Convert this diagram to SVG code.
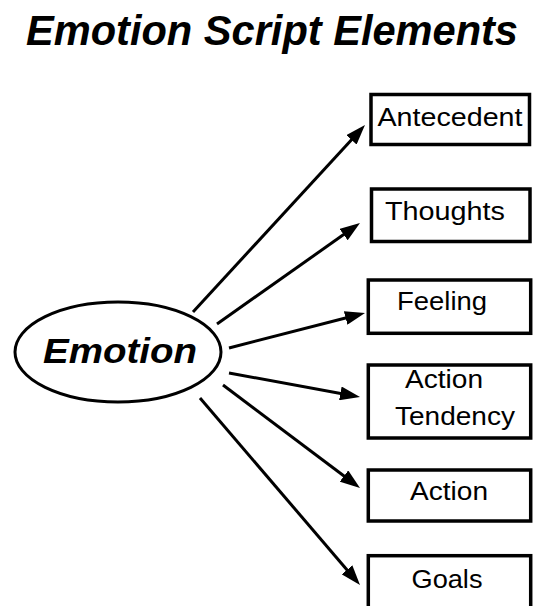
<svg xmlns="http://www.w3.org/2000/svg" width="542" height="606" viewBox="0 0 542 606">
<style>
.box{fill:#fff;stroke:#000;stroke-width:3.5}
.lbl{font-family:"Liberation Sans",Arial,sans-serif;font-size:25px;fill:#000}
.title{font-family:"Liberation Sans",Arial,sans-serif;font-size:43px;font-weight:bold;font-style:italic;fill:#000}
.conn line{stroke:#000;stroke-width:3;marker-end:url(#ah)}
</style>
<defs>
<marker id="ah" markerUnits="userSpaceOnUse" markerWidth="20" markerHeight="14" refX="10" refY="7" orient="auto" viewBox="0 0 20 14">
<path d="M0,0 L20,7 L0,14 z" fill="#000"/>
</marker>
</defs>
<rect width="542" height="606" fill="#fff"/>
<text class="title" x="272" y="45" text-anchor="middle" textLength="492" lengthAdjust="spacingAndGlyphs">Emotion Script Elements</text>
<g id="emotion">
<ellipse cx="118" cy="352" rx="103" ry="50" fill="#fff" stroke="#000" stroke-width="3"/>
<text x="120" y="363" text-anchor="middle" font-family="'Liberation Sans',Arial,sans-serif" font-size="35" font-weight="bold" font-style="italic" textLength="154" lengthAdjust="spacingAndGlyphs">Emotion</text>
</g>
<g id="antecedent">
<rect class="box" x="371" y="94.5" width="158.5" height="50"/>
<text class="lbl" x="450" y="126" text-anchor="middle" font-size="26" textLength="145" lengthAdjust="spacingAndGlyphs" style="font-size:26px">Antecedent</text>
</g>
<g id="thoughts">
<rect class="box" x="371.5" y="189" width="158.5" height="52.5"/>
<text class="lbl" x="445" y="220" text-anchor="middle" textLength="120" lengthAdjust="spacingAndGlyphs">Thoughts</text>
</g>
<g id="feeling">
<rect class="box" x="368.3" y="280" width="162.4" height="53.3"/>
<text class="lbl" x="442" y="310" text-anchor="middle" textLength="90" lengthAdjust="spacingAndGlyphs">Feeling</text>
</g>
<g id="action-tendency">
<rect class="box" x="368.3" y="365" width="162.4" height="73"/>
<text class="lbl" x="444" y="388" text-anchor="middle" textLength="78" lengthAdjust="spacingAndGlyphs">Action</text>
<text class="lbl" x="455" y="425" text-anchor="middle" textLength="120" lengthAdjust="spacingAndGlyphs">Tendency</text>
</g>
<g id="action">
<rect class="box" x="368.3" y="470" width="162.4" height="51"/>
<text class="lbl" x="449" y="500" text-anchor="middle" textLength="78" lengthAdjust="spacingAndGlyphs">Action</text>
</g>
<g id="goals">
<rect class="box" x="368.3" y="555.7" width="162.4" height="60"/>
<text class="lbl" x="447" y="588" text-anchor="middle" textLength="71" lengthAdjust="spacingAndGlyphs">Goals</text>
</g>
<g id="connectors" class="conn">
<line x1="193" y1="312" x2="358.2" y2="132.4"/>
<line x1="217" y1="324" x2="351.8" y2="228.8"/>
<line x1="229" y1="348" x2="355.3" y2="315.5"/>
<line x1="229" y1="373" x2="350.2" y2="395.2"/>
<line x1="223" y1="385" x2="352" y2="482"/>
<line x1="200" y1="398" x2="353.5" y2="577.4"/>
</g>
</svg>
